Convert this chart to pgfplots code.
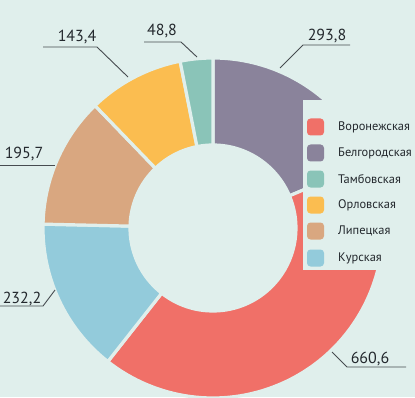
\documentclass[border=0pt]{standalone}
\usepackage{pgfplots}
\pgfplotsset{compat=1.18}
\usepackage{pgfplotstable}
\usepackage{fontspec}
\setmainfont{PT Sans}
\definecolor{bg}{RGB}{224,239,236}
\definecolor{cVor}{RGB}{240,112,104}
\definecolor{cBel}{RGB}{138,131,155}
\definecolor{cTam}{RGB}{138,196,184}
\definecolor{cOrl}{RGB}{251,189,80}
\definecolor{cLip}{RGB}{217,167,128}
\definecolor{cKur}{RGB}{147,203,219}
\definecolor{lbl}{RGB}{35,40,45}
\definecolor{ldr}{RGB}{70,75,80}

% slices, clockwise from 12 o'clock
\pgfplotstableread{
value col
293.8 cBel
660.6 cVor
232.2 cKur
195.7 cLip
143.4 cOrl
48.8 cTam
}\slices

\def\cx{213}
\def\cy{169}
\def\R{170}
\def\r{83}

\begin{document}
\begin{tikzpicture}
\begin{axis}[
  width=415pt, height=397pt, scale only axis,
  xmin=0, xmax=415, ymin=0, ymax=397,
  enlargelimits=false, hide axis, clip=true,
]
\fill[bg] (axis cs:0,0) rectangle (axis cs:415,397);
% total
\def\total{0}
\pgfplotsforeachungrouped \i in {0,...,5}{%
  \pgfplotstablegetelem{\i}{value}\of\slices
  \pgfmathsetmacro\total{\total+\pgfplotsretval}%
}
\def\cum{0}
\pgfplotsforeachungrouped \i in {0,...,5}{%
  \pgfplotstablegetelem{\i}{value}\of\slices \let\sval\pgfplotsretval
  \pgfplotstablegetelem{\i}{col}\of\slices \let\scol\pgfplotsretval
  \pgfmathsetmacro\sa{90-\cum/\total*360}%
  \pgfmathsetmacro\cum{\cum+\sval}%
  \pgfmathsetmacro\sb{90-\cum/\total*360}%
  \pgfmathsetmacro\xa{\cx+\R*cos(\sa)}%
  \pgfmathsetmacro\ya{\cy+\R*sin(\sa)}%
  \pgfmathsetmacro\xb{\cx+\r*cos(\sb)}%
  \pgfmathsetmacro\yb{\cy+\r*sin(\sb)}%
  \edef\tmp{\noexpand\filldraw[fill=\scol, draw=bg, line width=3.2pt, line join=miter]
    (axis cs:\xa,\ya) arc[start angle=\sa, end angle=\sb, radius=\R pt]
    -- (axis cs:\xb,\yb) arc[start angle=\sb, end angle=\sa, radius=\r pt] -- cycle;}%
  \tmp
}
% legend box
\fill[bg] (axis cs:303,127) rectangle (axis cs:415,297);
\foreach \yy/\cc/\nn in {270/cVor/Воронежская, 244/cBel/Белгородская, 218/cTam/Тамбовская, 192/cOrl/Орловская, 166/cLip/Липецкая, 139/cKur/Курская}{
  \edef\tmp{\noexpand\fill[\cc, rounded corners=3.5pt] (axis cs:307,\yy-8.5) rectangle (axis cs:324,\yy+8.5);
  \noexpand\node[anchor=west, font=\noexpand\fontsize{12.4}{14}\noexpand\selectfont, text=lbl, inner sep=0pt] at (axis cs:338,\yy) {\nn};}
  \tmp
}
% value labels
\begin{scope}[ldr, line width=0.9pt]
\draw (axis cs:280,329) -- (axis cs:303,352) -- (axis cs:350,352);
\draw (axis cs:197,340) -- (axis cs:181,355) -- (axis cs:144,355);
\draw (axis cs:128,320) -- (axis cs:97,350) -- (axis cs:43,350);
\draw (axis cs:0,232) -- (axis cs:55,232);
\draw (axis cs:55,107) -- (axis cs:43,91) -- (axis cs:0,91);
\draw (axis cs:332,45) -- (axis cs:347,30) -- (axis cs:406,30);
\end{scope}
\begin{scope}[every node/.style={anchor=base, text=lbl, inner sep=0pt, font=\fontsize{16}{18}\selectfont}]
\node at (axis cs:327,356) {293,8};
\node at (axis cs:162,361) {48,8};
\node at (axis cs:77,355) {143,4};
\node at (axis cs:24,238) {195,7};
\node at (axis cs:22,94) {232,2};
\node at (axis cs:370,34) {660,6};
\end{scope}
\end{axis}
\pgfresetboundingbox
\useasboundingbox (current axis.south west) rectangle (current axis.north east);
\end{tikzpicture}
\end{document}
